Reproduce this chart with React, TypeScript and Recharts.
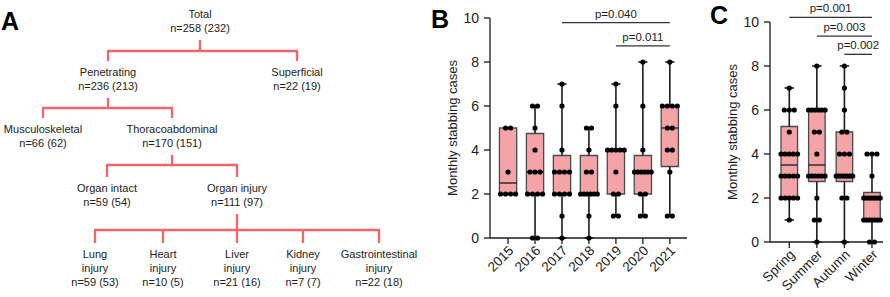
import React from "react";
import { ScatterChart, Scatter, XAxis, YAxis, ReferenceArea, ReferenceLine } from "recharts";

// ---- panel A: patient flow ----
const TREE_LABELS = [
  "Total",
  "Penetrating",
  "Superficial",
  "Musculoskeletal",
  "Thoracoabdominal",
  "Organ intact",
  "Organ injury",
  "Lung\ninjury",
  "Heart\ninjury",
  "Liver\ninjury",
  "Kidney\ninjury",
  "Gastrointestinal\ninjury",
];
const TREE_CASES = [258, 236, 22, 66, 170, 59, 111, 59, 10, 21, 7, 22];
const TREE_PATIENTS = [232, 213, 19, 62, 151, 54, 97, 53, 5, 16, 7, 18];
const TREE_PARENT = [-1, 0, 0, 1, 1, 4, 4, 6, 6, 6, 6, 6];

// layout of the diagram (px)
const TREE_X = [200, 108, 297, 43, 172, 107, 237, 95, 163, 237, 303, 379];
const TREE_LEVEL = [0, 1, 1, 2, 2, 3, 3, 4, 4, 4, 4, 4];
const LEVEL_Y = [14, 72, 129, 188, 254];
const BAR_Y = [51, 108, 165, 230];

// ---- panel B: by year ----
const YEARS = ["2015", "2016", "2017", "2018", "2019", "2020", "2021"];
const YEAR_CASES: number[][] = [
  [5, 5, 3, 2, 2, 2, 2],
  [6, 6, 5, 4, 3, 3, 3, 2, 2, 2, 2, 0, 0],
  [7, 6, 4, 3, 3, 3, 3, 2, 2, 2, 2, 1, 0],
  [5, 5, 4, 3, 3, 2, 2, 2, 2, 2, 2, 1, 0],
  [7, 6, 4, 4, 4, 4, 4, 3, 2, 2, 1, 1],
  [8, 6, 4, 3, 3, 3, 3, 3, 3, 2, 2, 1, 1],
  [8, 6, 6, 6, 6, 5, 5, 4, 4, 3, 1, 1],
];
const YEAR_MIN = [2, 0, 0, 0, 1, 1, 1];
const YEAR_Q1 = [2, 2, 2, 2, 2, 2, 3.25];
const YEAR_MED = [2.5, 3, 3, 2, 4, 3, 5];
const YEAR_Q3 = [5, 4.75, 3.75, 3.75, 4, 3.75, 6];
const YEAR_MAX = [5, 6, 7, 5, 7, 8, 8];
const YEAR_P = ["p=0.040", "p=0.011"];
const YEAR_P_FROM = [2, 4];
const YEAR_P_TO = [6, 6];

// ---- panel C: by season ----
const SEASONS = ["Spring", "Summer", "Autumn", "Winter"];
const SEASON_CASES: number[][] = [
  [7, 6, 6, 6, 5, 4, 4, 4, 4, 4, 3, 3, 3, 3, 3, 2, 2, 2, 2, 2, 1],
  [8, 6, 6, 6, 6, 6, 6, 5, 5, 4, 3, 3, 3, 3, 3, 3, 2, 1, 1, 0],
  [8, 7, 6, 5, 5, 4, 4, 4, 3, 3, 3, 3, 3, 3, 3, 3, 2, 2, 0],
  [4, 4, 4, 3, 2, 2, 2, 2, 2, 2, 2, 2, 1, 1, 1, 1, 1, 1, 1, 0, 0],
];
const SEASON_MIN = [1, 0, 0, 0];
const SEASON_Q1 = [2, 2.75, 2.75, 1];
const SEASON_MED = [3.5, 3.5, 3, 2];
const SEASON_Q3 = [5.25, 6, 5, 2.25];
const SEASON_MAX = [7, 8, 8, 4];
const SEASON_P = ["p=0.001", "p=0.003", "p=0.002"];
const SEASON_P_FROM = [0, 1, 2];
const SEASON_P_TO = [3, 3, 3];

const Y_TICKS = [0, 2, 4, 6, 8, 10];

const FONT = "Arial, 'Liberation Sans', Helvetica, sans-serif";
const INK = "#1b1b1b";
const TREE_RED = "#F0666B";
const BOX_FILL = "#F4A4A7";
const BOX_EDGE = "#4a4a4a";

type Pt = { x: number; y: number };

// spread dots sharing a value side by side, like a swarm
function swarm(groups: number[][], step: number, maxSpread: number): Pt[] {
  const out: Pt[] = [];
  groups.forEach((vals, i) => {
    const counts = new Map<number, number>();
    vals.forEach((v) => counts.set(v, (counts.get(v) ?? 0) + 1));
    counts.forEach((n, v) => {
      const s = n > 1 ? Math.min(step, maxSpread / (n - 1)) : 0;
      for (let k = 0; k < n; k++) out.push({ x: i + (k - (n - 1) / 2) * s, y: v });
    });
  });
  return out;
}

function boxes(
  lo: number[], q1: number[], med: number[], q3: number[], hi: number[],
  half: number, cap: number
) {
  const els: React.ReactNode[] = [];
  q1.forEach((_, i) => {
    const seg = (k: string, a: Pt, b: Pt, w = 1.6) => (
      <ReferenceLine key={`${k}${i}`} segment={[a, b]} stroke={INK} strokeWidth={w} ifOverflow="visible" />
    );
    if (lo[i] < q1[i]) els.push(seg("wl", { x: i, y: lo[i] }, { x: i, y: q1[i] }));
    if (hi[i] > q3[i]) els.push(seg("wh", { x: i, y: q3[i] }, { x: i, y: hi[i] }));
    els.push(seg("cl", { x: i - cap, y: lo[i] }, { x: i + cap, y: lo[i] }));
    els.push(seg("ch", { x: i - cap, y: hi[i] }, { x: i + cap, y: hi[i] }));
    els.push(
      <ReferenceArea
        key={`b${i}`}
        x1={i - half}
        x2={i + half}
        y1={q1[i]}
        y2={q3[i]}
        fill={BOX_FILL}
        fillOpacity={1}
        stroke={BOX_EDGE}
        strokeWidth={1.3}
      />
    );
    els.push(seg("m", { x: i - half, y: med[i] }, { x: i + half, y: med[i] }, 1.3));
  });
  return els;
}

function brackets(labels: string[], from: number[], to: number[], heights: number[]) {
  return labels.map((p, i) => (
    <ReferenceLine
      key={`p${i}`}
      segment={[{ x: from[i], y: heights[i] }, { x: to[i], y: heights[i] }]}
      stroke="#333"
      strokeWidth={1.3}
      ifOverflow="visible"
      label={{ value: p, position: "top", offset: 5, fontSize: 11.5, fill: INK, fontFamily: FONT }}
    />
  ));
}

const Dot = (props: any) => <circle cx={props.cx} cy={props.cy} r={2.6} fill="#000" />;

const RotTick = (props: any) => {
  const { x, y, payload, names } = props;
  return (
    <g transform={`translate(${x + 3},${y + 2})`}>
      <text x={0} y={0} dy="0.35em" textAnchor="end" transform="rotate(-45)" fontSize={13.5} fill={INK} fontFamily={FONT}>
        {names[payload.value]}
      </text>
    </g>
  );
};

const TreeNode = (props: any) => {
  const { cx, cy, payload } = props;
  const lines = [...payload.label.split("\n"), payload.count];
  return (
    <text x={cx} y={cy} textAnchor="middle" fontSize={11} fill="#222" fontFamily={FONT}>
      {lines.map((l: string, k: number) => (
        <tspan key={k} x={cx} y={cy + k * 14} dy="0.35em">
          {l}
        </tspan>
      ))}
    </text>
  );
};

function TreePanel() {
  const nodes = TREE_LABELS.map((label, i) => ({
    x: TREE_X[i],
    y: LEVEL_Y[TREE_LEVEL[i]],
    label,
    count: `n=${TREE_CASES[i]} (${TREE_PATIENTS[i]})`,
  }));
  const links: React.ReactNode[] = [];
  nodes.forEach((p, pi) => {
    const kids = nodes.filter((_, ci) => TREE_PARENT[ci] === pi);
    if (!kids.length) return;
    const lastLine = p.y + (p.label.split("\n").length) * 14;
    const bar = BAR_Y[TREE_LEVEL[pi]];
    const seg = (k: string, a: Pt, b: Pt) => (
      <ReferenceLine key={`${k}${pi}`} segment={[a, b]} stroke={TREE_RED} strokeWidth={2.3} ifOverflow="visible" />
    );
    const xs = kids.map((c) => c.x);
    links.push(seg("s", { x: p.x, y: lastLine + 12 }, { x: p.x, y: bar }));
    links.push(seg("h", { x: Math.min(...xs) - 1, y: bar }, { x: Math.max(...xs) + 1, y: bar }));
    kids.forEach((c, k) => links.push(seg(`d${k}-`, { x: c.x, y: bar }, { x: c.x, y: c.y - 11 })));
  });
  return (
    <ScatterChart width={430} height={297} margin={{ top: 0, right: 0, bottom: 0, left: 0 }}>
      <XAxis type="number" dataKey="x" domain={[0, 430]} hide />
      <YAxis type="number" dataKey="y" domain={[0, 297]} reversed hide />
      {links}
      <Scatter data={nodes} shape={TreeNode} isAnimationActive={false} />
    </ScatterChart>
  );
}

export default function App() {
  const yearDots = swarm(YEAR_CASES, 0.185, 0.62);
  const seasonDots = swarm(SEASON_CASES, 0.18, 0.6);
  const axis = { stroke: INK, strokeWidth: 1.3 };
  const yTick = { fontSize: 14, fill: INK, fontFamily: FONT };
  const yLabel = (offset: number) => ({
    value: "Monthly stabbing cases",
    angle: -90,
    position: "left" as const,
    offset,
    style: { textAnchor: "middle", fontSize: 13, fill: INK, fontFamily: FONT },
  });

  return (
    <div style={{ position: "absolute", left: 0, top: 0, width: 890, height: 297, background: "#fff", fontFamily: FONT }}>
      <div style={{ position: "absolute", left: 0, top: 0 }}>
        <TreePanel />
      </div>

      <div style={{ position: "absolute", left: 430, top: 0 }}>
        <ScatterChart width={260} height={297} margin={{ top: 18, right: 3, bottom: 9, left: 30 }}>
          <XAxis
            type="number"
            dataKey="x"
            domain={[-0.67, 6.637]}
            ticks={[0, 1, 2, 3, 4, 5, 6]}
            interval={0}
            allowDataOverflow
            height={50}
            axisLine={axis}
            tickLine={axis}
            tick={<RotTick names={YEARS} />}
          />
          <YAxis
            type="number"
            dataKey="y"
            domain={[0, 10]}
            ticks={Y_TICKS}
            width={30}
            tickMargin={5}
            axisLine={axis}
            tickLine={axis}
            tick={yTick}
            label={yLabel(8)}
          />
          {boxes(YEAR_MIN, YEAR_Q1, YEAR_MED, YEAR_Q3, YEAR_MAX, 0.32, 0.17)}
          {brackets(YEAR_P, YEAR_P_FROM, YEAR_P_TO, [9.79, 8.73])}
          <Scatter data={yearDots} shape={Dot} isAnimationActive={false} />
        </ScatterChart>
      </div>

      <div style={{ position: "absolute", left: 700, top: 0 }}>
        <ScatterChart width={190} height={297} margin={{ top: 22, right: 7, bottom: 9, left: 40 }}>
          <XAxis
            type="number"
            dataKey="x"
            domain={[-0.7, 3.4]}
            ticks={[0, 1, 2, 3]}
            interval={0}
            allowDataOverflow
            height={46}
            axisLine={axis}
            tickLine={axis}
            tick={<RotTick names={SEASONS} />}
          />
          <YAxis
            type="number"
            dataKey="y"
            domain={[0, 10]}
            ticks={Y_TICKS}
            width={30}
            tickMargin={5}
            axisLine={axis}
            tickLine={axis}
            tick={yTick}
            label={yLabel(8)}
          />
          {boxes(SEASON_MIN, SEASON_Q1, SEASON_MED, SEASON_Q3, SEASON_MAX, 0.3, 0.17)}
          {brackets(SEASON_P, SEASON_P_FROM, SEASON_P_TO, [10.21, 9.36, 8.53])}
          <Scatter data={seasonDots} shape={Dot} isAnimationActive={false} />
        </ScatterChart>
      </div>

      <svg width={890} height={297} style={{ position: "absolute", left: 0, top: 0, pointerEvents: "none" }}>
        <g fontFamily={FONT} fontWeight="bold" fontSize={25} fill="#000">
          <text x={1} y={30}>A</text>
          <text x={431} y={28}>B</text>
          <text x={710} y={23.5}>C</text>
        </g>
      </svg>
    </div>
  );
}
